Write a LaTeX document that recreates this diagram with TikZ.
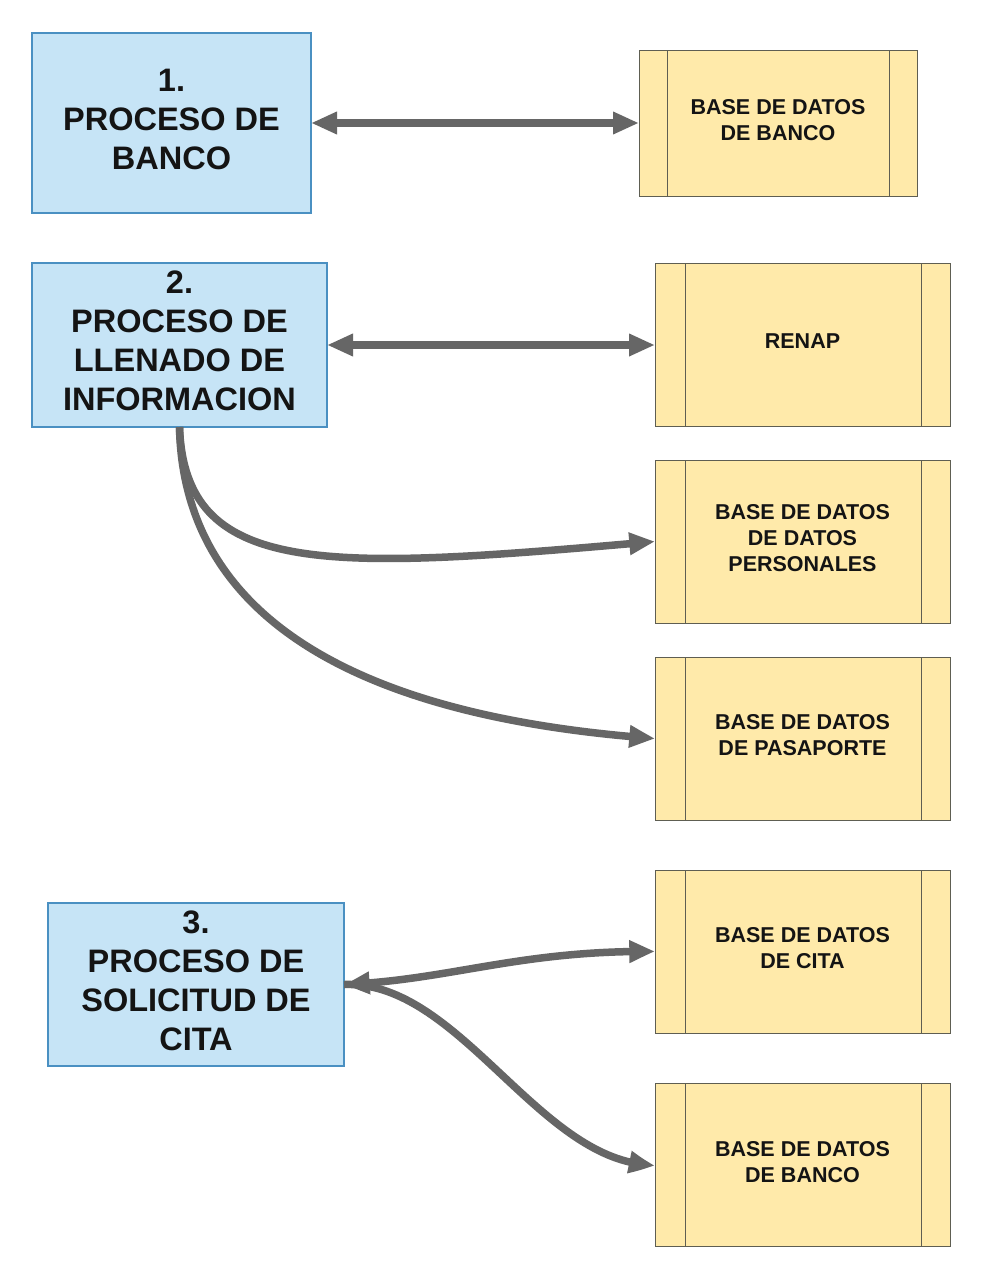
\documentclass[tikz,border=0pt]{standalone}
\usepackage{fontspec}
\setmainfont{Liberation Sans}
\usetikzlibrary{arrows.meta,bending}
\definecolor{bluefill}{HTML}{C6E4F6}
\definecolor{blueline}{HTML}{4A90C2}
\definecolor{yelfill}{HTML}{FFEAAA}
\definecolor{yelline}{HTML}{5E5E52}
\definecolor{arrowgray}{HTML}{666666}
\tikzset{
  bbox/.style={draw=blueline, fill=bluefill, line width=1.2pt, inner sep=0pt, outer sep=0pt},
  ybox/.style={draw=yelline, fill=yelfill, line width=1pt, inner sep=0pt, outer sep=0pt, minimum width=295pt, minimum height=163pt},
  bigtxt/.style={align=center, font=\fontsize{32.5}{39}\selectfont\bfseries, text=black!92},
  smalltxt/.style={align=center, font=\fontsize{21.5}{26}\selectfont\bfseries, text=black!92},
  inner/.style={draw=yelline, line width=1pt},
  conn/.style={draw=arrowgray, line width=7.5pt},
  tip/.style={-{Triangle[length=26pt,width=21pt,bend]}},
  dtip/.style={{Triangle[length=26pt,width=21pt,bend]}-{Triangle[length=26pt,width=21pt,bend]}}
}
\begin{document}
\begin{tikzpicture}[x=1pt,y=-1pt]
\useasboundingbox[fill=white] (0,0) rectangle (984,1280);

% blue process boxes
\node[bbox, minimum width=279pt, minimum height=180pt] (b1) at (171.5,123) {};
\node[bbox, minimum width=295pt, minimum height=164pt] (b2) at (179.5,345) {};
\node[bbox, minimum width=296pt, minimum height=163pt] (b3) at (196,984.5) {};
\node[bigtxt] (t1) at ([yshift=4pt]b1.center) {1.\\PROCESO DE\\BANCO};
\node[bigtxt] (t2) at ([yshift=4pt]b2.center) {2.\\PROCESO DE\\LLENADO DE\\INFORMACION};
\node[bigtxt] (t3) at ([yshift=4pt]b3.center) {3.\\PROCESO DE\\SOLICITUD DE\\CITA};

% yellow data stores
\node[ybox, minimum width=278pt, minimum height=146pt] (y1) at (778,123) {};
\node[ybox] (y2) at (802.5,344.5) {};
\node[ybox] (y3) at (802.5,541.5) {};
\node[ybox] (y4) at (802.5,738.5) {};
\node[ybox] (y5) at (802.5,951.5) {};
\node[ybox] (y6) at (802.5,1165) {};
\draw[inner] ([xshift=28pt]y1.north west) -- ([xshift=28pt]y1.south west);
\draw[inner] ([xshift=-28pt]y1.north east) -- ([xshift=-28pt]y1.south east);
\foreach \n in {y2,y3,y4,y5,y6}{
  \draw[inner] ([xshift=30pt]\n.north west) -- ([xshift=30pt]\n.south west);
  \draw[inner] ([xshift=-29pt]\n.north east) -- ([xshift=-29pt]\n.south east);
}
\node[smalltxt] (l1) at ([yshift=3pt]y1.center) {BASE DE DATOS\\DE BANCO};
\node[smalltxt] (l2) at ([yshift=3pt]y2.center) {RENAP};
\node[smalltxt] (l3) at ([yshift=3pt]y3.center) {BASE DE DATOS\\DE DATOS\\PERSONALES};
\node[smalltxt] (l4) at ([yshift=3pt]y4.center) {BASE DE DATOS\\DE PASAPORTE};
\node[smalltxt] (l5) at ([yshift=3pt]y5.center) {BASE DE DATOS\\DE CITA};
\node[smalltxt] (l6) at ([yshift=3pt]y6.center) {BASE DE DATOS\\DE BANCO};

% connectors
\draw[conn, dtip] (b1.east) -- (y1.west);
\draw[conn, dtip] (b2.east) -- (b2.east -| y2.west);
\draw[conn, tip] (b2.south) .. controls (185,580) and (330,570) .. (y3.west);
\draw[conn, tip] (b2.south) .. controls (183,605) and (335,715) .. (y4.west);
\draw[conn, tip] (b3.east) .. controls (460,980) and (540,1165) .. (y6.west);
\draw[conn, dtip] (b3.east) .. controls (450,980) and (520,950) .. (y5.west);
\end{tikzpicture}
\end{document}
